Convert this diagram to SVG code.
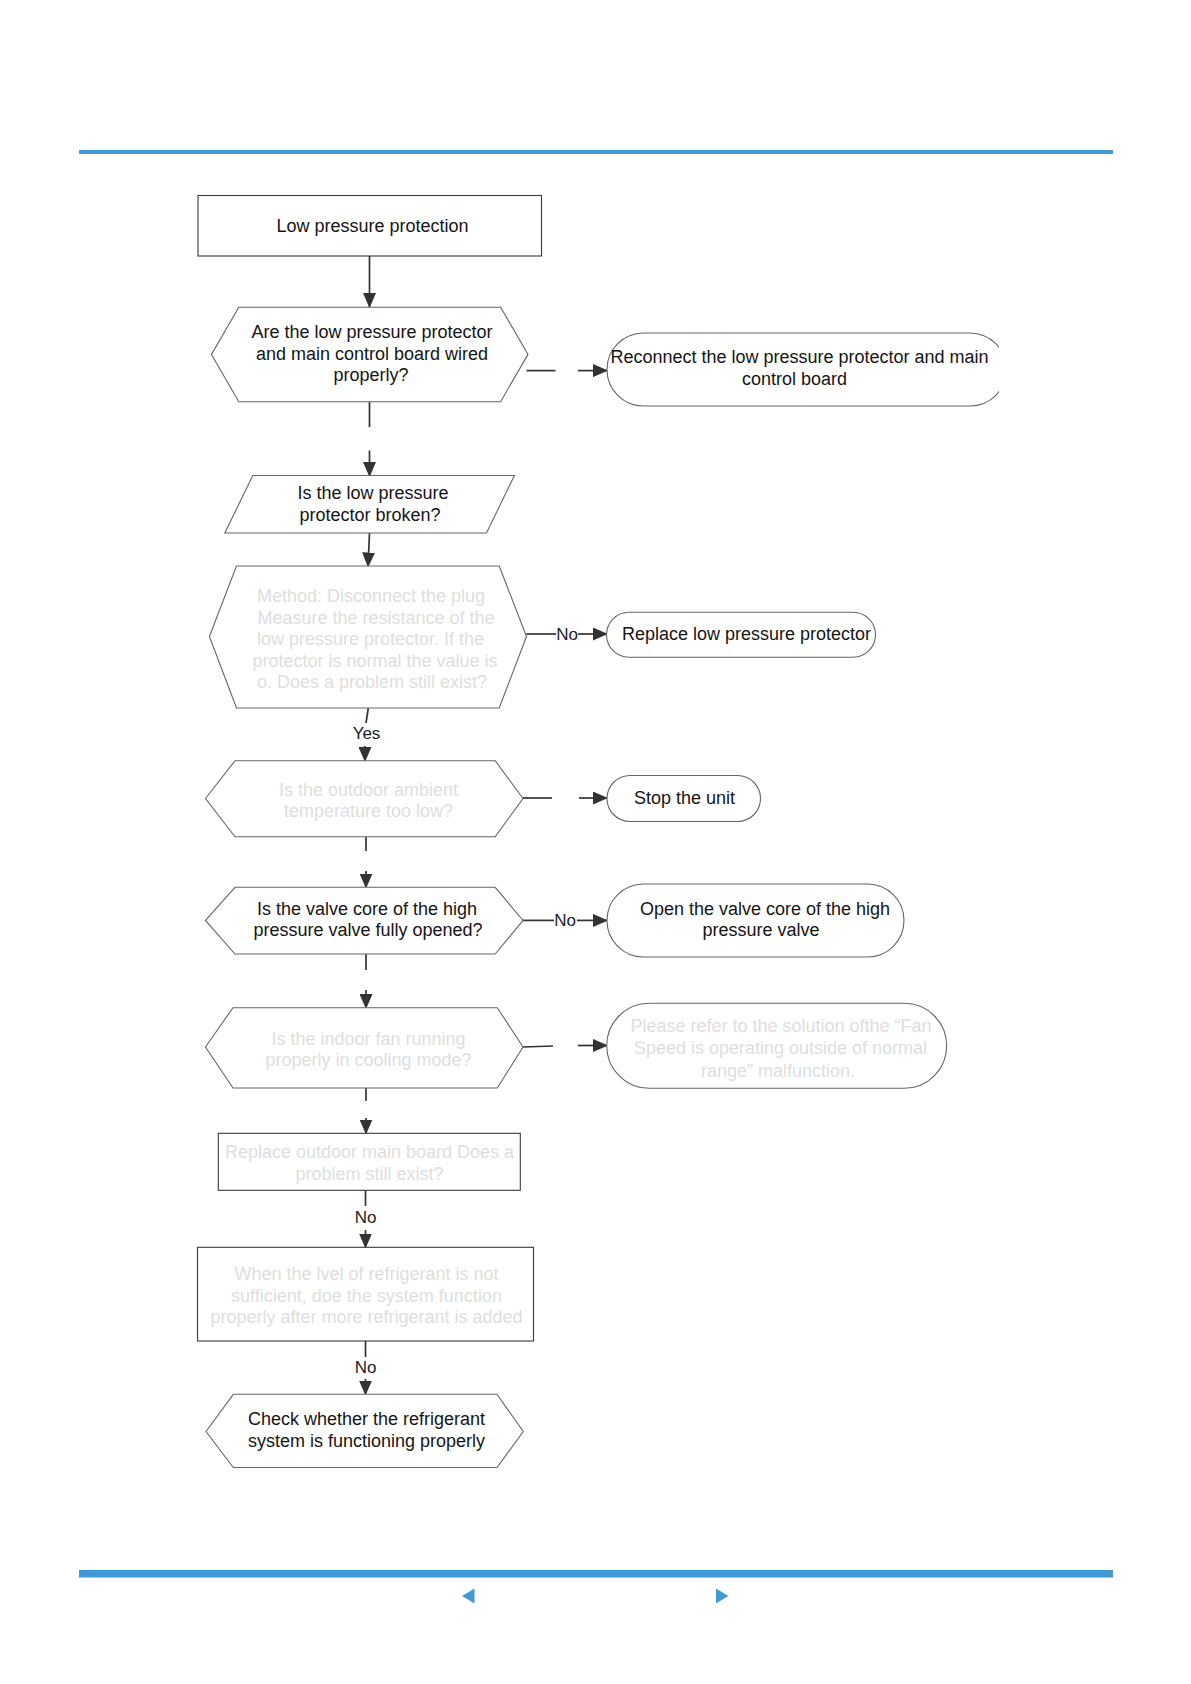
<svg xmlns="http://www.w3.org/2000/svg" width="1191" height="1684" viewBox="0 0 1191 1684">
<style>
.bg{fill:#fff}
.rect{fill:#fff;stroke:#3a3a3a;stroke-width:1.1}
.shape{fill:#fff;stroke:#666;stroke-width:1.1}
.t{font-family:"Liberation Sans",Arial,sans-serif;font-size:18px;fill:#151515;text-anchor:middle}
.f{fill:#dedede}
.lbl{font-family:"Liberation Sans",Arial,sans-serif;font-size:17px;fill:#222;text-anchor:middle}
.c{stroke:#333;stroke-width:1.7;fill:none}
.a{stroke:#333;stroke-width:1.7;fill:none;marker-end:url(#ah)}
.bar{fill:#4598d6}
</style>
<defs>
<marker id="ah" markerUnits="userSpaceOnUse" markerWidth="15" markerHeight="13" refX="14" refY="6.5" orient="auto">
<path d="M0,0 L15,6.5 L0,13 Z" fill="#333"/>
</marker>
<clipPath id="clip3"><rect x="590" y="320" width="409" height="100"/></clipPath>
</defs>
<rect class="bg" x="0" y="0" width="1191" height="1684"/>
<rect class="bar" x="79" y="150" width="1034" height="4"/>
<rect class="bar" x="79" y="1570" width="1034" height="7.5"/>
<polygon class="bar" points="462,1596 474.5,1588.5 474.5,1603.5"/>
<polygon class="bar" points="728.5,1596 716,1588.5 716,1603.5"/>

<g id="connectors">
<line class="a" x1="369.5" y1="256" x2="369.5" y2="307"/>
<line class="c" x1="526.5" y1="370.6" x2="555.5" y2="370.6"/>
<line class="a" x1="578" y1="370.6" x2="607" y2="370.6"/>
<line class="c" x1="369.5" y1="402" x2="369.5" y2="427"/>
<line class="a" x1="369.5" y1="450.5" x2="369.5" y2="476"/>
<line class="a" x1="369.5" y1="533" x2="368" y2="566.5"/>
<line class="c" x1="526.3" y1="634" x2="556" y2="634"/>
<text class="lbl" x="567" y="640">No</text>
<line class="a" x1="578" y1="634" x2="607" y2="634"/>
<line class="c" x1="368.3" y1="708" x2="366" y2="723"/>
<text class="lbl" x="366.5" y="739">Yes</text>
<line class="a" x1="365" y1="746" x2="365" y2="761"/>
<line class="c" x1="523" y1="798" x2="552" y2="798"/>
<line class="a" x1="579" y1="798" x2="607" y2="798"/>
<line class="c" x1="366" y1="837" x2="366" y2="851"/>
<line class="a" x1="366" y1="871" x2="366" y2="887.5"/>
<line class="c" x1="523" y1="920.4" x2="554" y2="920.4"/>
<text class="lbl" x="565" y="926.4">No</text>
<line class="a" x1="577" y1="920.4" x2="607" y2="920.4"/>
<line class="c" x1="366" y1="954" x2="366" y2="970"/>
<line class="a" x1="366" y1="990" x2="366" y2="1008"/>
<line class="c" x1="523" y1="1047" x2="553" y2="1046"/>
<line class="a" x1="578" y1="1045.5" x2="607" y2="1045.5"/>
<line class="c" x1="366" y1="1088" x2="366" y2="1101"/>
<line class="a" x1="366" y1="1118" x2="366" y2="1133.5"/>
<line class="c" x1="365.5" y1="1190" x2="365.5" y2="1206"/>
<text class="lbl" x="365.5" y="1223">No</text>
<line class="a" x1="365.5" y1="1230" x2="365.5" y2="1247.5"/>
<line class="c" x1="365.5" y1="1341" x2="365.5" y2="1357"/>
<text class="lbl" x="365.5" y="1372.5">No</text>
<line class="a" x1="365.5" y1="1379" x2="365.5" y2="1394.5"/>
</g>

<g id="n1">
<rect class="rect" x="198" y="195.5" width="343.5" height="60.5"/>
<text class="t" x="372.5" y="232">Low pressure protection</text>
</g>

<g id="n2">
<polygon class="shape" points="211.5,354.4 238.8,307.2 500.6,307.2 528,354.4 500.6,401.7 238.8,401.7"/>
<text class="t" x="372" y="338">Are the low pressure protector</text>
<text class="t" x="372" y="359.5">and main control board wired</text>
<text class="t" x="371" y="381">properly?</text>
</g>

<g id="n3">
<path class="shape" clip-path="url(#clip3)" d="M643.5,333 H970 A36.5,36.5 0 0 1 970,406 H643.5 A36.5,36.5 0 0 1 643.5,333 Z"/>
<text class="t" x="799.5" y="363">Reconnect the low pressure protector and main</text>
<text class="t" x="794.5" y="385">control board</text>
</g>

<g id="n4">
<polygon class="shape" points="252.8,475.5 514.4,475.5 486.5,533 224.8,533"/>
<text class="t" x="373" y="499">Is the low pressure</text>
<text class="t" x="370" y="520.5">protector broken?</text>
</g>

<g id="n5">
<polygon class="shape" points="209.4,636.5 236.5,566 499.2,566 526.5,636.5 499.2,708 236.5,708"/>
<text class="t f" x="371" y="602">Method: Disconnect the plug</text>
<text class="t f" x="376" y="623.6">Measure the resistance of the</text>
<text class="t f" x="370.5" y="645">low pressure protector. If the</text>
<text class="t f" x="375" y="666.5">protector is normal the value is</text>
<text class="t f" x="372" y="688">o. Does a problem still exist?</text>
</g>

<g id="n6">
<rect class="shape" x="606.5" y="612.3" width="269" height="45" rx="22.5" ry="22.5"/>
<text class="t" x="746.5" y="640">Replace low pressure protector</text>
</g>

<g id="n7">
<polygon class="shape" points="205.5,798.5 235,760.7 495.2,760.7 523,798.5 495.2,836.8 235,836.8"/>
<text class="t f" x="368.5" y="795.5">Is the outdoor ambient</text>
<text class="t f" x="368.5" y="817">temperature too low?</text>
</g>

<g id="n8">
<rect class="shape" x="607" y="775.5" width="153.5" height="46" rx="23" ry="23"/>
<text class="t" x="684.5" y="804">Stop the unit</text>
</g>

<g id="n9">
<polygon class="shape" points="205.5,920.4 235,887.3 495.2,887.3 523,920.4 495.2,954 235,954"/>
<text class="t" x="367" y="914.6">Is the valve core of the high</text>
<text class="t" x="368" y="936">pressure valve fully opened?</text>
</g>

<g id="n10">
<rect class="shape" x="607" y="884" width="297" height="73" rx="36.5" ry="36.5"/>
<text class="t" x="765" y="914.6">Open the valve core of the high</text>
<text class="t" x="761" y="936">pressure valve</text>
</g>

<g id="n11">
<polygon class="shape" points="205.5,1047 233,1007.7 497.3,1007.7 523,1047 497.3,1088 233,1088"/>
<text class="t f" x="368.5" y="1044.6">Is  the indoor fan running</text>
<text class="t f" x="368.5" y="1066">properly in cooling mode?</text>
</g>

<g id="n12">
<rect class="shape" x="606.7" y="1003.3" width="340" height="85" rx="42.5" ry="42.5"/>
<text class="t f" x="781" y="1032">Please refer to the solution ofthe “Fan</text>
<text class="t f" x="780.5" y="1054">Speed is operating outside of normal</text>
<text class="t f" x="778" y="1076.5">range”  malfunction.</text>
</g>

<g id="n13">
<rect class="rect" x="218.3" y="1133.3" width="302" height="57"/>
<text class="t f" x="369.5" y="1158.4">Replace outdoor main board Does a</text>
<text class="t f" x="369.5" y="1180">problem still exist?</text>
</g>

<g id="n14">
<rect class="rect" x="197.5" y="1247.3" width="336" height="93.7"/>
<text class="t f" x="366.5" y="1280">When the lvel of refrigerant is not</text>
<text class="t f" x="366.5" y="1301.5">sufficient, doe the system function</text>
<text class="t f" x="366.5" y="1323">properly after more refrigerant is added</text>
</g>

<g id="n15">
<polygon class="shape" points="206,1431.5 233.3,1394.3 497,1394.3 523.3,1431.5 497,1467.5 233.3,1467.5"/>
<text class="t" x="366.5" y="1425">Check whether the refrigerant</text>
<text class="t" x="366.5" y="1447">system is functioning properly</text>
</g>
</svg>
